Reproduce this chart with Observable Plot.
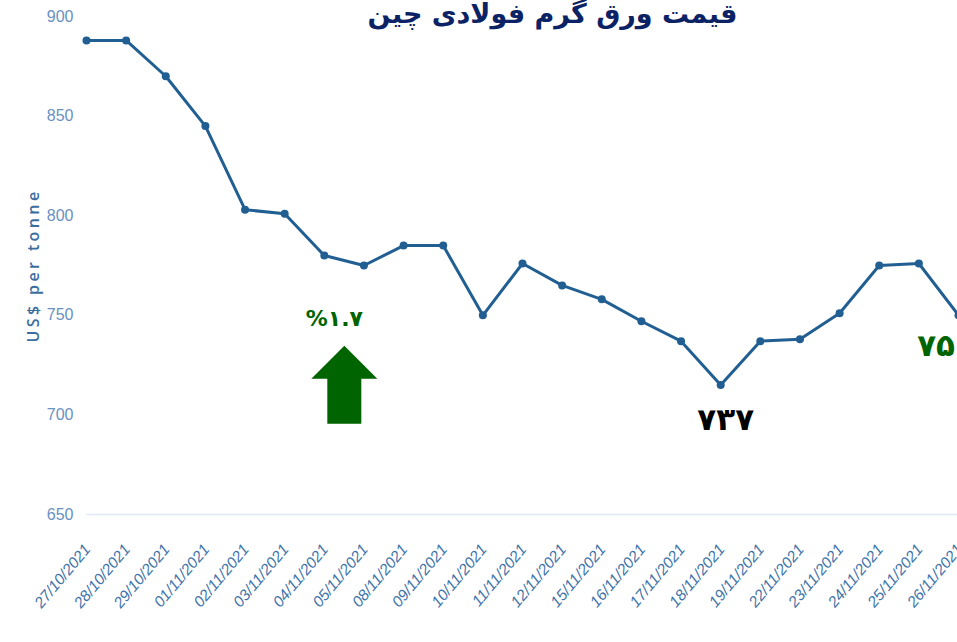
<!DOCTYPE html>
<html>
<head>
<meta charset="utf-8">
<script src="https://cdn.jsdelivr.net/npm/d3@7"></script>
<script src="https://cdn.jsdelivr.net/npm/@observablehq/plot@0.6"></script>
<style>
  html, body { margin: 0; padding: 0; background: #ffffff; overflow: hidden; }
  #chart { width: 957px; height: 642px; overflow: hidden; }
  #chart svg { max-width: none !important; width: 1000px !important; height: 642px !important; }
</style>
</head>
<body>
<div id="chart"></div>
<script>
// ---- data ----
const dates = ["27/10/2021","28/10/2021","29/10/2021","01/11/2021","02/11/2021","03/11/2021",
  "04/11/2021","05/11/2021","08/11/2021","09/11/2021","10/11/2021","11/11/2021","12/11/2021",
  "15/11/2021","16/11/2021","17/11/2021","18/11/2021","19/11/2021","22/11/2021","23/11/2021",
  "24/11/2021","25/11/2021","26/11/2021"];
const prices = [888, 888, 870, 845, 803, 801, 780, 775, 785, 785, 750, 776, 765, 758, 747, 737,
  715, 737, 738, 751, 775, 776, 750];
const yTicks = [650, 700, 750, 800, 850, 900];
const titleText = "قیمت ورق گرم فولادی چین";
const yLabel = "US$ per tonne";

// annotations
const noteTexts = ["%۱.۷", "۷۳۷", "۷۵۰"];
const noteDates = ["04/11/2021", "18/11/2021", "26/11/2021"];
const noteValues = [748.4, 697.2, 734.8];
const noteColors = ["#006400", "#000000", "#006400"];
const noteShift = [10, 5, -13];
const noteSizes = [22, 31, 31];
const arrowDate = ["04/11/2021"];
const arrowBase = [695.6];

const series = dates.map((d, i) => ({date: d, price: prices[i]}));
const notes = noteTexts.map((t, i) => ({text: t, date: noteDates[i], value: noteValues[i]}));

const lineColor = "#215f93";

// block up-arrow shape for the vector mark
const blockArrow = {
  draw(context, l) {
    const s = l / 78;
    context.moveTo(-17 * s, 0);
    context.lineTo(17 * s, 0);
    context.lineTo(17 * s, -45 * s);
    context.lineTo(33 * s, -45 * s);
    context.lineTo(0, -78 * s);
    context.lineTo(-33 * s, -45 * s);
    context.lineTo(-17 * s, -45 * s);
    context.closePath();
  }
};

const noteMarks = notes.map((n, i) => Plot.text([n], {
  x: "date", y: "value", text: "text", fill: noteColors[i], dx: noteShift[i],
  fontSize: noteSizes[i], fontWeight: "bold", fontFamily: "'DejaVu Sans', sans-serif"
}));

const chart = Plot.plot({
  width: 1000,
  height: 642,
  marginLeft: 86,
  marginRight: 42,
  marginTop: 16,
  marginBottom: 128,
  style: {background: "#ffffff", overflow: "visible", maxWidth: "none"},
  x: {type: "point", domain: dates, padding: 0, round: false, label: null},
  y: {domain: [650, 900], label: null},
  marks: [
    Plot.ruleY([650], {stroke: "#dfeaf6", strokeWidth: 1.5}),
    Plot.axisY({
      ticks: yTicks, tickSize: 0, tickPadding: 13, label: null,
      fontSize: 16, fontFamily: "'Liberation Sans Narrow', 'Liberation Sans', sans-serif",
      fill: "#6a91bf"
    }),
    Plot.axisX({
      ticks: dates, tickSize: 0, tickPadding: 32, tickRotate: -50, label: null,
      fontSize: 15.5, fontStyle: "italic", fontFamily: "'Liberation Sans', sans-serif",
      fill: "#3f74aa", dx: 1
    }),
    Plot.text([yLabel], {
      frameAnchor: "left", textAnchor: "middle", rotate: -90, dx: -53, fontSize: 16,
      fontFamily: "'Open Sans', sans-serif", fontWeight: 600, fill: "#3b6e9f"
    }),
    Plot.line(series, {x: "date", y: "price", stroke: lineColor, strokeWidth: 3}),
    Plot.dot(series, {x: "date", y: "price", r: 4, fill: lineColor, stroke: "none"}),
    Plot.vector(arrowDate.map((d, i) => ({date: d, v: arrowBase[i]})), {
      x: "date", y: "v", dx: 20, length: 78, rotate: 0, anchor: "start",
      shape: blockArrow, fill: "#006400", stroke: "none"
    }),
    ...noteMarks,
    Plot.text([titleText], {
      frameAnchor: "top", dx: 30, dy: 6, lineAnchor: "bottom",
      fontSize: 27, fontWeight: "bold", fontFamily: "'DejaVu Sans', sans-serif",
      fill: "#0b2265"
    })
  ]
});
// widen the letter spacing of the rotated axis title
chart.querySelectorAll("text").forEach((t) => {
  if (t.textContent === yLabel) t.style.letterSpacing = "3.4px";
});
document.getElementById("chart").append(chart);
</script>
</body>
</html>
